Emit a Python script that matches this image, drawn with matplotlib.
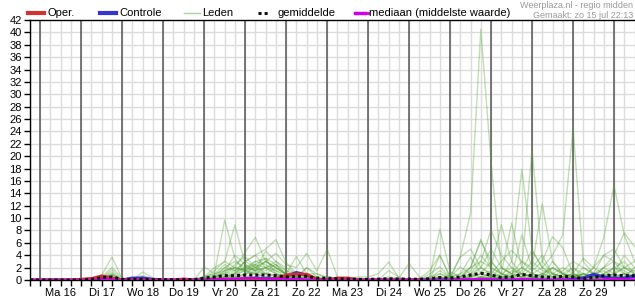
import numpy as np
import matplotlib
matplotlib.use('Agg')
import matplotlib.pyplot as plt
from matplotlib.lines import Line2D

plt.rcParams['font.family'] = ['Liberation Sans', 'DejaVu Sans']

# 6-hourly steps, starting 15 jul 18:00 (index 0) up to 30 jul 12:00 (index 59)
day_labels = ['Ma 16', 'Di 17', 'Wo 18', 'Do 19', 'Vr 20', 'Za 21', 'Zo 22',
              'Ma 23', 'Di 24', 'Wo 25', 'Do 26', 'Vr 27', 'Za 28', 'Zo 29']

# operational run (ends after ~10 days)
oper = [0, 0, 0, 0, 0, 0.1, 0.2, 0.65, 0.3, 0, 0, 0, 0, 0, 0, 0.15, 0, 0, 0, 0,
        0, 0, 0, 0.05, 0.15, 0.8, 0.95, 0.9, 0.1, 0, 0.3, 0.3, 0.05, 0, 0, 0, 0, 0, 0.05]

controle = [0, 0, 0, 0, 0, 0, 0.2, 0.4, 0.2, 0, 0.3, 0.3, 0.1, 0, 0, 0, 0, 0, 0, 0.05,
            0.1, 0.2, 0.3, 0.2, 0.2, 0.6, 1.2, 0.8, 0.1, 0, 0, 0, 0, 0, 0, 0, 0, 0, 0, 0,
            0, 0, 0, 0, 0, 0, 0, 0, 0, 0, 0, 0, 0, 0.1, 0.3, 0.9, 0.5, 0.2, 0.3, 0.65]

gemiddelde = [0, 0, 0, 0, 0, 0, 0.1, 0.4, 0.5, 0.1, 0.1, 0.1, 0.05, 0.05, 0.05, 0.05,
              0.05, 0.3, 0.5, 0.7, 0.7, 0.8, 0.8, 0.8, 0.7, 0.5, 0.6, 0.6, 0.3, 0.3,
              0.2, 0.15, 0.1, 0.1, 0.15, 0.2, 0.15, 0.15, 0.1, 0.2, 0.4, 0.3, 0.5, 0.8,
              1.1, 0.8, 0.4, 0.5, 0.9, 0.7, 0.5, 0.4, 0.6, 0.5, 0.2, 0.4, 0.7, 0.8, 0.7, 0.7]

mediaan = [0, 0, 0, 0, 0, 0, 0, 0.1, 0.1, 0, 0, 0, 0, 0, 0, 0, 0, 0.05, 0.1, 0.2, 0.2,
           0.3, 0.3, 0.2, 0.2, 0.1, 0.2, 0.1, 0, 0, 0, 0, 0, 0, 0, 0, 0, 0, 0, 0, 0,
           0, 0.1, 0.1, 0.2, 0.1, 0, 0, 0.2, 0.1, 0, 0, 0.1, 0, 0, 0, 0.1, 0.2, 0.1, 0.1]

# ensemble members (leden), grouped per day: 15 jul 18h | 16 .. 29 (4 steps) | 30 (3 steps)
m01 = [0, 0, 0, 0, 0, 0, 0, 0.3, 0.8, 0, 0, 0.3, 0, 0, 0, 0, 0, 0.3, 1.5, 3, 2,
       1.5, 2.5, 1, 0.5, 0.3, 0, 0, 0, 0, 0, 0, 0, 0, 0, 0, 0, 0, 0, 0, 0.5,
       0.3, 3.8, 10.8, 40.5, 19, 2, 1, 0.5, 0.3, 1, 2, 1, 0, 0, 0.5, 0.3, 0, 0, 0.3]
m02 = [0, 0, 0, 0, 0, 0, 0, 0.4, 1.2, 0, 0.1, 0.5, 0, 0, 0, 0, 0.2, 0.5, 1, 9.7, 3.5,
       1.2, 2, 1, 0.8, 0.5, 0.3, 0, 0, 0, 0, 0, 0, 0, 0, 0.2, 0, 0, 0, 0, 1,
       0.5, 0, 0, 0.5, 0.3, 0, 0, 1.5, 4.8, 2, 0.5, 0.3, 0, 0.3, 1.2, 0.5, 0.3, 1, 0.5]
m03 = [0, 0, 0, 0, 0, 0, 0, 0.5, 2, 0.3, 0, 1.3, 0.3, 0, 0, 0, 0, 0.5, 2, 3, 8.9,
       2.5, 1.5, 3, 2, 0.8, 0.5, 0.3, 0, 0, 0, 0, 0, 0, 0, 0, 0, 0, 0, 0.5, 8.2,
       1.3, 0.5, 1, 3, 8.1, 4, 2, 1, 0.5, 0, 0, 0.5, 2, 1, 0.5, 1, 2, 1.5, 0.5]
m04 = [0, 0, 0, 0, 0, 0, 0.1, 0.8, 3.7, 0.2, 0, 0.5, 0, 0, 0, 0, 0, 0, 0.5, 1.5, 2,
       4.5, 6.9, 3, 2, 1, 0.5, 0.3, 0.2, 0, 0, 0, 0, 0, 0, 0, 0, 0, 0.3, 0, 0.5,
       0, 0.5, 2, 6.6, 2, 8.9, 3, 1, 0.5, 0.3, 1, 2, 1, 0.5, 2, 4, 3, 1, 0.5]
m05 = [0, 0, 0, 0, 0, 0, 0, 0.3, 1.6, 0, 0.2, 0.7, 0.2, 0, 0, 0, 0, 0.2, 0.8, 2, 1.5,
       3, 4, 5, 6.5, 2.8, 1, 0.5, 0.3, 0, 0, 0, 0, 0, 0, 0.5, 0.3, 2.7, 0.5, 0, 0.3,
       0, 0, 0.5, 1, 3, 1, 9.2, 2, 21.1, 3, 1, 0.5, 0.3, 1, 0.5, 2, 3, 2, 1]
m06 = [0, 0, 0, 0, 0, 0, 0, 0.2, 0.5, 0, 0, 0.3, 0, 0, 0, 0, 0, 0, 0.3, 1.2, 2.5,
       3.8, 2, 3, 4.3, 2.5, 2, 4.3, 1.5, 5, 0.5, 0, 0, 0, 0, 0, 0, 0, 0, 0, 0,
       0, 0, 0.3, 0.5, 1, 0.5, 0.5, 7.3, 2, 12.3, 3, 1, 0.5, 0.3, 1, 0.5, 0.5, 1, 0.3]
m07 = [0, 0, 0, 0, 0, 0, 0, 0.3, 1, 0, 0, 0.2, 0, 0, 0, 0, 0, 0, 0.5, 1, 1.5,
       2, 2.5, 2, 1.5, 1, 3.8, 1, 0.5, 0.3, 0, 0.2, 0.5, 0.5, 1, 2.9, 0.3, 0, 0.2, 1.5, 4,
       0.5, 3.7, 5, 2, 1, 0.5, 3, 17.9, 4.8, 2, 1, 0.5, 1, 3.5, 2, 1, 0.5, 0.3, 0.5]
m08 = [0, 0, 0, 0, 0, 0, 0, 0, 0.6, 0, 0, 0, 0, 0, 0, 0, 0, 2.1, 1, 1.5, 2,
       1.5, 3, 3.5, 2.5, 1, 0.5, 1, 1, 0.5, 0.3, 0, 0, 0, 0, 0, 0, 0, 0, 1, 2.1,
       0.5, 2.1, 1, 0.5, 0.3, 0.5, 1, 2, 1, 2, 4, 7.3, 24.5, 3, 1, 0.5, 1, 2, 1.5]
m09 = [0, 0, 0, 0, 0, 0, 0, 0.2, 0.4, 0, 0, 0, 0, 0, 0, 0, 0, 0, 0.2, 1.5, 4,
       2.5, 1.5, 2, 3, 1.5, 0.5, 0.3, 0, 0, 0, 0, 0, 0, 0, 0, 0, 0, 0, 0, 0,
       0.5, 1, 2, 3, 2, 1, 0.5, 1, 0.5, 1, 2, 1, 0.5, 0.3, 2, 6.8, 15.3, 7.3, 3]
m10 = [0, 0, 0, 0, 0, 0, 0, 0, 0.3, 0, 0, 0, 0, 0, 0, 0, 0, 0, 0, 0.5, 1,
       2, 1.5, 4.7, 3, 2, 1, 0.5, 0.3, 0, 0, 0, 0, 0, 0, 0, 0, 0, 0, 0.3, 1.5,
       0.5, 0.3, 0.5, 2, 1, 3, 4.8, 3, 1.5, 3, 7, 5.2, 1, 0.5, 1, 2, 4, 7.6, 5.4]
m11 = [0, 0, 0, 0, 0, 0, 0, 0, 0.2, 0, 0, 0.5, 0, 0, 0, 0, 0, 0, 0, 0.5, 1,
       1.5, 1, 2, 1, 0.5, 0.3, 2, 1, 0.3, 0, 0, 0, 0, 0, 0, 0, 0, 0, 0, 4,
       0.5, 1, 3.7, 1, 0.5, 0.3, 1.5, 1, 3, 1.5, 1, 0.5, 0.3, 2, 1, 0.5, 1, 4, 2]
m12 = [0, 0, 0, 0, 0, 0, 0, 0, 0, 0, 0, 0, 0, 0, 0, 0, 0, 0, 0.3, 0.5, 0.5,
       1, 1.5, 1, 2, 1, 0.5, 0.3, 0, 0, 0, 0, 0, 0, 0, 0, 0, 0, 0, 0, 0.5,
       0, 0.5, 2, 6.3, 3, 1, 0.5, 2, 1, 0.5, 3, 1, 0.5, 1, 0.5, 0.3, 1, 2, 3]
m13 = [0, 0, 0, 0, 0, 0, 0, 0.2, 0.9, 0, 0, 0.3, 0, 0, 0, 0, 0, 0, 0.5, 2, 3,
       2, 3, 2.5, 1.5, 0.5, 1, 0.5, 0, 0, 0, 0, 0, 0, 0, 0, 0, 0, 0, 0.5, 1,
       0.3, 0, 1, 2, 5, 2, 1, 0.5, 2, 4, 1, 0.5, 1, 0.5, 0.3, 0.5, 2, 1, 0.5]
m14 = [0, 0, 0, 0, 0, 0, 0, 0, 0.3, 0, 0, 0, 0, 0, 0, 0, 0, 0.5, 1, 2.5, 1.5,
       3, 4, 2, 2.5, 0.8, 0.5, 0, 0, 0, 0, 0, 0, 0, 0, 0, 0, 0, 0, 0.3, 0.5,
       0, 0.5, 1.5, 4, 2, 1, 0.5, 0, 0.5, 1, 0.5, 1.5, 3, 2, 1, 4, 5, 2, 1]
m15 = [0, 0, 0, 0, 0, 0, 0, 0, 0.2, 0, 0, 0, 0, 0, 0, 0, 0, 0, 0, 0.3, 0.8,
       1.5, 2, 3, 2, 1, 0.5, 2, 0.5, 0, 0, 0, 0, 0, 0, 0, 0, 0, 0, 0, 0,
       0.5, 0.3, 0.5, 1, 0.5, 2, 1, 3, 2, 1, 0.5, 0.3, 0.5, 1, 0.5, 2, 1, 0.5, 2]
m16 = [0, 0, 0, 0, 0, 0, 0, 0, 0, 0, 0, 0, 0, 0, 0, 0, 0, 0, 0.3, 0.8, 1.2,
       2, 1.5, 2, 1, 0.5, 0, 0, 0, 0, 0, 0, 0, 0, 0, 0, 0, 0, 0, 0, 0.3,
       0, 0, 0.5, 1, 1.5, 0.5, 0.3, 1, 0.5, 0.3, 2, 1, 0.5, 0.3, 1, 1.5, 0.5, 1, 1.5]
m17 = [0, 0, 0, 0, 0, 0, 0, 0, 0.3, 0, 0, 0.2, 0, 0, 0, 0, 0, 0, 0.2, 0.5, 1,
       3, 2, 1.5, 2.5, 1.5, 1, 0.5, 0.3, 0, 0, 0, 0, 0, 0, 0, 0, 0, 0, 0, 0,
       0, 0, 0, 0.5, 0.3, 1, 2, 0.5, 1, 0.5, 0.3, 1, 2, 0.5, 0.3, 1, 2, 3, 1]
m18 = [0, 0, 0, 0, 0, 0, 0, 0, 0, 0, 0, 0, 0, 0, 0, 0, 0, 0, 0, 0.2, 0.5,
       1, 1.2, 1, 0.8, 0.5, 0.3, 0, 0, 0, 0, 0, 0, 0, 0, 0, 0, 0, 0, 0, 0,
       0, 0, 0, 0.3, 0.5, 0.3, 0, 0.5, 0.3, 0, 0.5, 0.3, 0, 0.5, 0.3, 0.3, 0.5, 0.3, 0.5]
m19 = [0, 0, 0, 0, 0, 0, 0, 0, 0, 0, 0, 0, 0, 0, 0, 0, 0, 0.3, 0.5, 1, 2,
       1.5, 1, 0.5, 0.3, 0, 0, 0, 0, 0, 0, 0, 0, 0, 0, 0, 0, 0, 0, 0, 0,
       0, 0, 0, 0, 0, 0, 0, 0.5, 1, 0.5, 0, 0, 0.5, 1, 0.3, 0, 0, 0.5, 1]
m20 = [0, 0, 0, 0, 0, 0, 0, 0, 0.1, 0, 0, 0, 0, 0, 0, 0, 0, 0, 0.2, 0.3, 0.5,
       0.8, 2.5, 3.5, 1, 0.5, 0.3, 0, 0, 0, 0, 0, 0, 0, 0, 1.5, 0.5, 0, 0, 0, 0,
       0, 0, 0.3, 0, 0, 0.5, 0.3, 0, 0.3, 0, 0, 0.5, 1, 0.3, 0, 0.5, 0.3, 0, 0.5]
m21 = [0, 0, 0, 0, 0, 0, 0, 0, 0.1, 0, 0, 0, 0, 0, 0, 0, 0, 0, 0, 0.2, 0.3,
       0.5, 0.5, 0.3, 0.3, 0.2, 0, 0, 0, 0, 0, 0, 0, 0, 0, 0, 0, 0, 0, 0, 0,
       0, 0, 0, 0.2, 0, 0, 0, 0, 0, 0, 0, 0, 0, 0, 0, 0, 0, 0, 0]
m22 = [0, 0, 0, 0, 0, 0, 0, 0, 0, 0, 0, 0, 0, 0, 0, 0, 0, 0, 0, 0, 0.3,
       0.5, 1, 0.5, 0.3, 0.2, 0, 0.3, 0, 0, 0, 0, 0, 0, 0, 0, 0, 0, 0, 0, 0,
       0, 0, 0, 0, 0, 0.3, 0.5, 0, 0, 0, 0, 0, 0, 0, 0.3, 0, 0.3, 0, 0]
leden = [m01, m02, m03, m04, m05, m06, m07, m08, m09, m10, m11,
         m12, m13, m14, m15, m16, m17, m18, m19, m20, m21, m22]

W, H = 635, 300
fig = plt.figure(figsize=(W / 100, H / 100), dpi=100)
ax = fig.add_axes([30 / W, 20 / H, 604.5 / W, 260 / H])

n = len(gemiddelde)
t = np.arange(n)

# grid: 6-hour verticals, 2 mm horizontals, darker line at each midnight
for x in t:
    ax.axvline(x, color='#dcdcdc', lw=1, zorder=0)
for y in range(2, 42, 2):
    ax.axhline(y, color='#dcdcdc', lw=1, zorder=0)
for x in range(1, n, 4):
    ax.axvline(x, color='#555555', lw=1.1, zorder=1)

lid_kleur = '#4ea22e'
for lid in leden:
    ax.plot(t, lid, color=lid_kleur, lw=1, alpha=0.35, zorder=2)

ax.plot(t, controle, color='#3535d0', lw=2.3, zorder=4)
ax.plot(np.arange(len(oper)), oper, color='#d23232', lw=2.3, zorder=5)
ax.plot(t, mediaan, color='#d000e8', lw=1.5, zorder=6)
ax.plot(t, gemiddelde, color='#111111', lw=2.2, ls=(0, (1, 1)), zorder=7)

ax.set_xlim(0, n - 1)
ax.set_ylim(0, 42)
ax.set_yticks(range(0, 43, 2))
xt_labels = [''] * n
for k, lab in enumerate(day_labels):
    xt_labels[3 + 4 * k] = lab
ax.set_xticks(t, xt_labels)
ax.tick_params(axis='both', direction='out', length=4, width=1, color='black',
               labelsize=8, pad=2)
for s in ['left', 'bottom', 'top']:
    ax.spines[s].set_color('black')
    ax.spines[s].set_linewidth(1)
ax.spines['right'].set_visible(False)

# legend row along the top
def fx(px):
    return px / W

def fy(py):
    return 1 - py / H

ly = 13
legend_items = [
    (28, 44, 48, 'Oper.', dict(color='#d23232', lw=3)),
    (100, 116, 119, 'Controle', dict(color='#3535d0', lw=3)),
    (184, 200, 202, 'Leden', dict(color='#a9d49c', lw=1)),
    (258, 270, 277, 'gemiddelde', dict(color='#111111', lw=2.2, ls=(0, (1, 1)))),
    (355, 365, 369, 'mediaan (middelste waarde)', dict(color='#d000e8', lw=2.5)),
]
for x0, x1, xt, txt, style in legend_items:
    fig.add_artist(Line2D([fx(x0), fx(x1)], [fy(ly), fy(ly)], **style))
    fig.text(fx(xt), fy(ly), txt, fontsize=8, va='center', ha='left')
fig.add_artist(Line2D([fx(366.5), fx(367.5)], [fy(ly), fy(ly)], color='#d000e8', lw=2))

fig.text(fx(633), fy(5), 'Weerplaza.nl - regio midden', fontsize=6.5, color='#999999',
         ha='right', va='center')
fig.text(fx(633), fy(15), 'Gemaakt: zo 15 jul 22:13', fontsize=6.5, color='#999999',
         ha='right', va='center')

fig.savefig('out.png', dpi=100)
